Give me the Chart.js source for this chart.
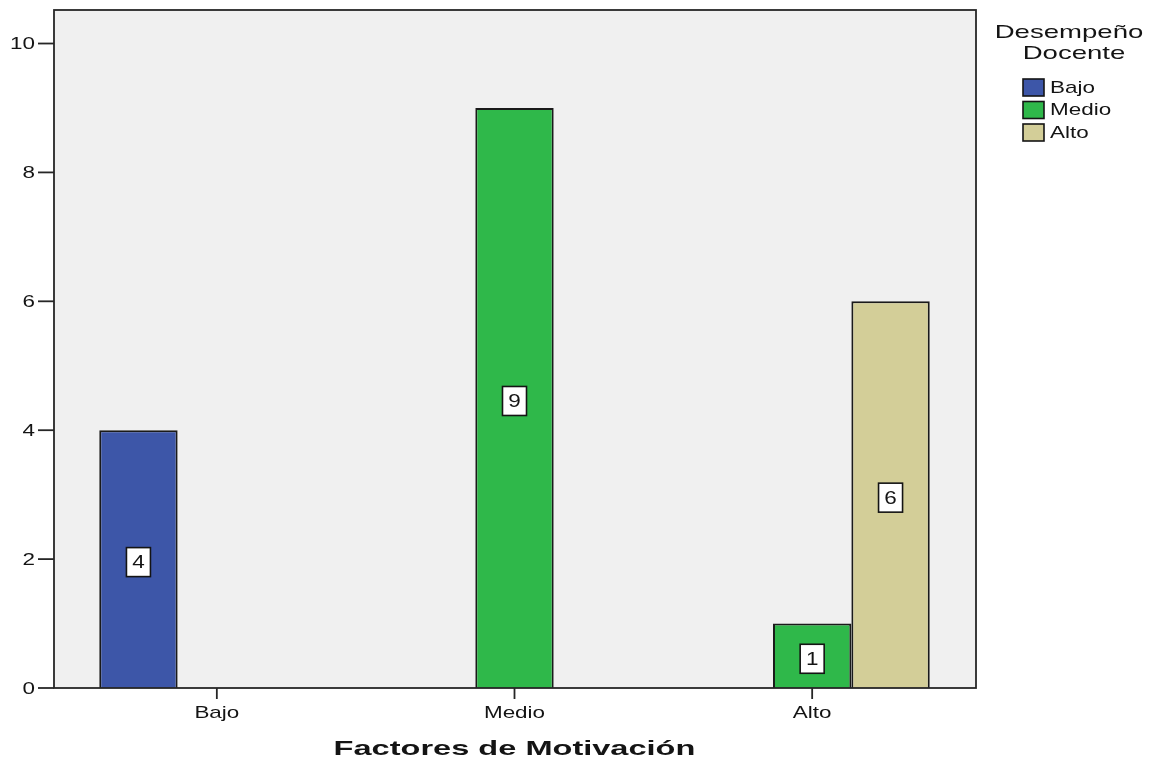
<!DOCTYPE html>
<html>
<head>
<meta charset="utf-8">
<script src="https://cdn.jsdelivr.net/npm/chart.js@4"></script>
<style>
  html, body { margin: 0; padding: 0; background: #ffffff; }
  #wrap { width: 1153px; height: 764px; }
</style>
</head>
<body>
<div id="wrap"><canvas id="c" width="1153" height="764"></canvas></div>
<script>
// Categories on the x axis (Factores de Motivación)
const categories = ['Bajo', 'Medio', 'Alto'];
// Series: Desempeño Docente level, counts per category (null = no bar)
const seriesNames = ['Bajo', 'Medio', 'Alto'];
const bajoValues  = [4, null, null];
const medioValues = [null, 9, 1];
const altoValues  = [null, null, 6];
// Y axis tick labels
const yTicks = [0, 2, 4, 6, 8, 10];

const xTitle = 'Factores de Motivación';
const legendTitle = ['Desempeño', 'Docente'];

const colors = ['#3d56a8', '#2fb84a', '#d3ce98'];
const FONT = '"Liberation Sans", Arial, sans-serif';
const SX = 1.32; // horizontal text stretch

function stretchedText(ctx, text, x, y, font, align, sx) {
  ctx.save();
  ctx.font = font;
  ctx.textAlign = align;
  ctx.textBaseline = 'middle';
  ctx.translate(x, y);
  ctx.scale(sx, 1);
  ctx.fillText(text, 0, 0);
  ctx.restore();
}

// Frame (plot panel) edges, slightly wider than the category area
const frame = { left: 54, right: 976, top: 10, bottom: 688 };

const decor = {
  id: 'decor',
  beforeDatasetsDraw(chart) {
    const ctx = chart.ctx;
    ctx.save();
    ctx.fillStyle = '#f0f0f0';
    ctx.fillRect(frame.left, frame.top, frame.right - frame.left, frame.bottom - frame.top);
    ctx.restore();
  },
  afterDatasetsDraw(chart) {
    const ctx = chart.ctx;
    const x = chart.scales.x, y = chart.scales.y;
    ctx.save();
    // panel border
    ctx.strokeStyle = '#262626';
    ctx.lineWidth = 1.8;
    ctx.strokeRect(frame.left, frame.top, frame.right - frame.left, frame.bottom - frame.top);

    // y ticks + labels
    ctx.fillStyle = '#141414';
    yTicks.forEach(v => {
      const py = y.getPixelForValue(v);
      ctx.beginPath();
      ctx.moveTo(frame.left - 16, py);
      ctx.lineTo(frame.left, py);
      ctx.stroke();
      stretchedText(ctx, String(v), frame.left - 19, py + 1, '17px ' + FONT, 'right', SX);
    });

    // x ticks + labels
    categories.forEach((c, i) => {
      const px = x.getPixelForTick(i);
      ctx.beginPath();
      ctx.moveTo(px, frame.bottom);
      ctx.lineTo(px, frame.bottom + 11);
      ctx.stroke();
      stretchedText(ctx, c, px, frame.bottom + 25, '17px ' + FONT, 'center', SX);
    });

    // x axis title
    stretchedText(ctx, xTitle, (x.left + x.right) / 2, 749, 'bold 21px ' + FONT, 'center', 1.55);

    // value labels in boxes at bar middles
    chart.data.datasets.forEach((ds, di) => {
      const meta = chart.getDatasetMeta(di);
      meta.data.forEach((bar, i) => {
        const v = ds.data[i];
        if (v === null || v === undefined) return;
        const cx = bar.x;
        const cy = (bar.y + bar.base) / 2 + 3;
        const w = 24, h = 29;
        ctx.fillStyle = '#ffffff';
        ctx.fillRect(cx - w / 2, cy - h / 2, w, h);
        ctx.strokeStyle = '#141414';
        ctx.lineWidth = 1.6;
        ctx.strokeRect(cx - w / 2, cy - h / 2, w, h);
        ctx.fillStyle = '#141414';
        stretchedText(ctx, String(v), cx, cy + 1, '18px ' + FONT, 'center', 1.25);
      });
    });

    // legend
    ctx.fillStyle = '#141414';
    stretchedText(ctx, legendTitle[0], 1069, 33, '19px ' + FONT, 'center', 1.45);
    stretchedText(ctx, legendTitle[1], 1074, 54, '19px ' + FONT, 'center', 1.45);
    chart.data.datasets.forEach((ds, di) => {
      const top = 79 + di * 22.5;
      ctx.fillStyle = ds.backgroundColor;
      ctx.fillRect(1023, top, 21, 17);
      ctx.strokeStyle = '#141414';
      ctx.lineWidth = 1.6;
      ctx.strokeRect(1023, top, 21, 17);
      ctx.fillStyle = '#141414';
      stretchedText(ctx, ds.label, 1050, top + 9, '17px ' + FONT, 'left', SX);
    });
    ctx.restore();
  }
};

const datasets = [bajoValues, medioValues, altoValues].map((vals, i) => ({
  label: seriesNames[i],
  data: vals,
  backgroundColor: colors[i],
  borderColor: '#1a1a1a',
  borderWidth: 2,
  categoryPercentage: 0.79,
  barPercentage: 1.0
}));

new Chart(document.getElementById('c'), {
  type: 'bar',
  data: { labels: categories, datasets },
  options: {
    responsive: false,
    animation: false,
    devicePixelRatio: 1,
    layout: { padding: { left: 68, right: 192, top: 10, bottom: 76 } },
    plugins: { legend: { display: false }, tooltip: { enabled: false } },
    scales: {
      x: { display: false, offset: true },
      y: { display: false, min: 0, max: 10.52 }
    }
  },
  plugins: [decor]
});
</script>
</body>
</html>
